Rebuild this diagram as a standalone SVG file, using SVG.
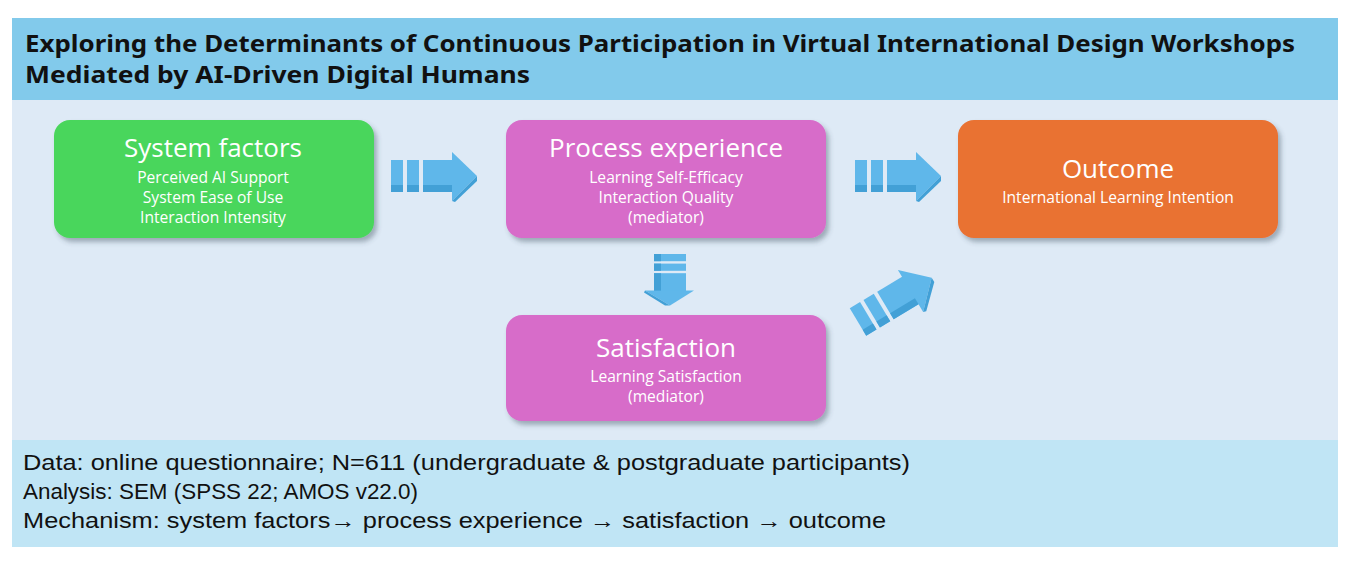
<svg xmlns="http://www.w3.org/2000/svg" width="1350" height="561" viewBox="0 0 1350 561">
<style>
.ttl{font-family:"Noto Sans","Open Sans","DejaVu Sans",sans-serif;font-weight:bold;font-size:24px;fill:#111}
.nh{font-family:"Open Sans","Noto Sans",sans-serif;font-size:26px;fill:#fff;text-anchor:middle}
.ns{font-family:"Open Sans","Noto Sans",sans-serif;font-size:15.6px;fill:#fff;text-anchor:middle}
.ft{font-family:"Liberation Sans",Arial,sans-serif;font-size:21.5px;fill:#111}
.box{filter:url(#sh)}
</style>
<defs>
<filter id="sh" x="-10%" y="-10%" width="125%" height="130%">
<feDropShadow dx="3" dy="4" stdDeviation="2.5" flood-color="#3a4a5a" flood-opacity="0.4"/>
</filter>
<g id="arr">
<rect x="0" y="-16" width="12" height="32" fill="#5FB7EA"/>
<rect x="16" y="-16" width="12" height="32" fill="#5FB7EA"/>
<rect x="32" y="-16" width="30" height="32" fill="#5FB7EA"/>
<polygon points="61,-24 86,0 61,25" fill="#5FB7EA"/>
<rect x="0" y="9" width="12" height="7" fill="#42A0D6"/>
<rect x="16" y="9" width="12" height="7" fill="#42A0D6"/>
<rect x="32" y="9" width="29" height="7" fill="#42A0D6"/>
<polygon points="61,25 86,0 86,5 64,26" fill="#42A0D6"/>
</g>
</defs>
<rect x="0" y="0" width="1350" height="561" fill="#ffffff"/>
<rect x="12" y="18" width="1326" height="82" fill="#82CAEB"/>
<rect x="12" y="100" width="1326" height="340" fill="#DEEAF6"/>
<rect x="12" y="440" width="1326" height="107" fill="#C0E5F5"/>
<g id="title">
<text class="ttl" x="25" y="52" textLength="1270" lengthAdjust="spacingAndGlyphs">Exploring the Determinants of Continuous Participation in Virtual International Design Workshops</text>
<text class="ttl" x="25" y="83" textLength="505" lengthAdjust="spacingAndGlyphs">Mediated by AI-Driven Digital Humans</text>
</g>
<g id="connectors">
<use href="#arr" transform="translate(391,176)"/>
<use href="#arr" transform="translate(855,176)"/>
<use href="#arr" transform="translate(670,254) rotate(90) scale(0.6,1)"/>
<use href="#arr" transform="translate(858,322) rotate(-31)"/>
</g>
<g id="system-factors">
<rect class="box" x="54" y="120" width="320" height="118" rx="16" fill="#4AD65C"/>
<text class="nh" x="213" y="157">System factors</text>
<text class="ns" x="213" y="183">Perceived AI Support</text>
<text class="ns" x="213" y="203">System Ease of Use</text>
<text class="ns" x="213" y="223">Interaction Intensity</text>
</g>
<g id="process-experience">
<rect class="box" x="506" y="120" width="320" height="118" rx="16" fill="#D76CC9"/>
<text class="nh" x="666" y="157">Process experience</text>
<text class="ns" x="666" y="183">Learning Self-Efficacy</text>
<text class="ns" x="666" y="203">Interaction Quality</text>
<text class="ns" x="666" y="223">(mediator)</text>
</g>
<g id="outcome">
<rect class="box" x="958" y="120" width="320" height="118" rx="16" fill="#E97233"/>
<text class="nh" x="1118" y="178">Outcome</text>
<text class="ns" x="1118" y="203">International Learning Intention</text>
</g>
<g id="satisfaction">
<rect class="box" x="506" y="315" width="320" height="106" rx="16" fill="#D76CC9"/>
<text class="nh" x="666" y="357">Satisfaction</text>
<text class="ns" x="666" y="382">Learning Satisfaction</text>
<text class="ns" x="666" y="402">(mediator)</text>
</g>
<g id="notes">
<text class="ft" x="23" y="470" textLength="887" lengthAdjust="spacingAndGlyphs">Data: online questionnaire; N=611 (undergraduate &amp; postgraduate participants)</text>
<text class="ft" x="23" y="499" textLength="395" lengthAdjust="spacingAndGlyphs">Analysis: SEM (SPSS 22; AMOS v22.0)</text>
<text class="ft" x="23" y="528" textLength="863" lengthAdjust="spacingAndGlyphs">Mechanism: system factors→ process experience → satisfaction → outcome</text>
</g>
</svg>
